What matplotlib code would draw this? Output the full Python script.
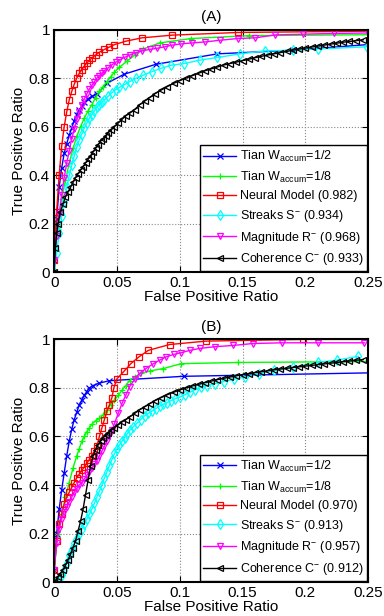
import numpy as np
import matplotlib
matplotlib.use("Agg")
import matplotlib.pyplot as plt

plt.rcParams['font.family'] = ['Liberation Sans', 'DejaVu Sans']
plt.rcParams['mathtext.fontset'] = 'custom'
plt.rcParams['mathtext.rm'] = 'Liberation Sans'
plt.rcParams['mathtext.it'] = 'Liberation Sans:italic'

# ---------------- panel (A) ----------------
blueA_x = [0, 0.002, 0.004, 0.006, 0.008, 0.010, 0.012, 0.014, 0.016, 0.018, 0.020, 0.022,
           0.024, 0.027, 0.030, 0.0345, 0.0417, 0.0557, 0.081, 0.13, 0.19, 0.28]
blueA_y = [0.05, 0.22, 0.35, 0.43, 0.49, 0.53, 0.565, 0.595, 0.625, 0.65, 0.67, 0.685,
           0.70, 0.715, 0.725, 0.735, 0.778, 0.816, 0.857, 0.90, 0.915, 0.95]

greenA_x = [0, 0.003, 0.006, 0.009, 0.012, 0.015, 0.018, 0.021, 0.024, 0.027, 0.030, 0.033,
            0.036, 0.039, 0.042, 0.045, 0.048, 0.052, 0.058, 0.064, 0.071, 0.084, 0.109, 0.155, 0.28]
greenA_y = [0.05, 0.18, 0.30, 0.38, 0.45, 0.51, 0.56, 0.60, 0.635, 0.665, 0.69, 0.72,
            0.745, 0.765, 0.785, 0.805, 0.825, 0.845, 0.87, 0.895, 0.92, 0.945, 0.963, 0.975, 0.98]

redA_x = [0, 0.002, 0.004, 0.006, 0.008, 0.010, 0.012, 0.014, 0.016, 0.018, 0.020, 0.022,
          0.024, 0.026, 0.028, 0.030, 0.033, 0.036, 0.040, 0.044, 0.048, 0.057, 0.070, 0.094,
          0.146, 0.28]
redA_y = [0.05, 0.25, 0.40, 0.52, 0.60, 0.66, 0.71, 0.745, 0.775, 0.80, 0.82, 0.835,
          0.85, 0.862, 0.873, 0.883, 0.895, 0.907, 0.918, 0.928, 0.938, 0.952, 0.966, 0.977,
          0.988, 0.995]

cyanA_x = [0, 0.002, 0.004, 0.006, 0.008, 0.010, 0.012, 0.014, 0.016, 0.018, 0.020, 0.022,
           0.024, 0.026, 0.028, 0.030, 0.032, 0.034, 0.036, 0.038, 0.040, 0.043, 0.046, 0.049,
           0.052, 0.056, 0.060, 0.0655, 0.071, 0.0775, 0.085, 0.093, 0.1035, 0.116, 0.13,
           0.148, 0.168, 0.19, 0.21, 0.249]
cyanA_y = [0.0, 0.08, 0.16, 0.23, 0.29, 0.35, 0.40, 0.44, 0.48, 0.515, 0.545, 0.57,
           0.595, 0.615, 0.635, 0.65, 0.665, 0.68, 0.69, 0.70, 0.71, 0.725, 0.74, 0.752,
           0.762, 0.773, 0.785, 0.80, 0.812, 0.826, 0.84, 0.853, 0.86, 0.874, 0.885,
           0.90, 0.912, 0.915, 0.92, 0.929]

magA_x = [0, 0.002, 0.004, 0.006, 0.008, 0.010, 0.012, 0.014, 0.016, 0.018, 0.020, 0.022,
          0.024, 0.026, 0.028, 0.030, 0.032, 0.034, 0.036, 0.038, 0.040, 0.043, 0.046, 0.049,
          0.052, 0.056, 0.060, 0.065, 0.070, 0.076, 0.082, 0.088, 0.094, 0.101, 0.110, 0.120,
          0.132, 0.146, 0.160, 0.176, 0.198, 0.223, 0.25]
magA_y = [0.05, 0.15, 0.24, 0.32, 0.39, 0.45, 0.50, 0.55, 0.59, 0.63, 0.66, 0.69,
          0.715, 0.735, 0.755, 0.77, 0.785, 0.80, 0.81, 0.82, 0.83, 0.842, 0.855, 0.865,
          0.875, 0.885, 0.895, 0.905, 0.912, 0.918, 0.923, 0.929, 0.936, 0.941, 0.945, 0.949,
          0.956, 0.963, 0.966, 0.978, 0.981, 0.984, 0.986]

blackA_x = [0, 0.001, 0.002, 0.003, 0.005, 0.007, 0.009, 0.011, 0.013, 0.015, 0.017, 0.019,
            0.021, 0.023, 0.025, 0.027, 0.029, 0.031, 0.033, 0.035, 0.037, 0.039, 0.041, 0.043,
            0.045, 0.048, 0.051, 0.054, 0.057, 0.060, 0.064, 0.068, 0.072, 0.076, 0.080, 0.085,
            0.090, 0.095, 0.100, 0.105, 0.110, 0.115, 0.120, 0.125, 0.130, 0.135, 0.140, 0.145,
            0.150, 0.155, 0.160, 0.165, 0.170, 0.175, 0.180, 0.185, 0.190, 0.195, 0.200, 0.205,
            0.210, 0.215, 0.220, 0.225, 0.230, 0.235, 0.240, 0.246]
blackA_y = [0.0, 0.10, 0.16, 0.20, 0.25, 0.28, 0.31, 0.33, 0.35, 0.37, 0.39, 0.405,
            0.42, 0.435, 0.45, 0.465, 0.48, 0.495, 0.51, 0.525, 0.54, 0.55, 0.56, 0.575,
            0.585, 0.60, 0.615, 0.63, 0.645, 0.655, 0.67, 0.69, 0.705, 0.72, 0.735, 0.75,
            0.765, 0.778, 0.79, 0.80, 0.81, 0.82, 0.83, 0.838, 0.846, 0.854, 0.86, 0.866,
            0.872, 0.878, 0.884, 0.89, 0.895, 0.90, 0.905, 0.91, 0.915, 0.92, 0.924, 0.928,
            0.932, 0.936, 0.94, 0.944, 0.948, 0.951, 0.954, 0.958]

# ---------------- panel (B) ----------------
blueB_x = [0, 0.002, 0.004, 0.006, 0.008, 0.010, 0.012, 0.014, 0.016, 0.018, 0.020, 0.022,
           0.024, 0.026, 0.028, 0.031, 0.036, 0.044, 0.103, 0.28]
blueB_y = [0.05, 0.20, 0.30, 0.38, 0.45, 0.52, 0.58, 0.63, 0.67, 0.70, 0.73, 0.75,
           0.77, 0.785, 0.80, 0.81, 0.82, 0.83, 0.848, 0.865]

greenB_x = [0, 0.003, 0.006, 0.009, 0.012, 0.015, 0.018, 0.020, 0.022, 0.024, 0.026, 0.028,
            0.030, 0.033, 0.036, 0.039, 0.042, 0.045, 0.048, 0.051, 0.054, 0.057, 0.060, 0.064,
            0.069, 0.076, 0.087, 0.101, 0.1465, 0.28]
greenB_y = [0.05, 0.20, 0.28, 0.35, 0.41, 0.47, 0.52, 0.55, 0.58, 0.60, 0.62, 0.635,
            0.65, 0.665, 0.675, 0.69, 0.71, 0.73, 0.75, 0.77, 0.79, 0.81, 0.83, 0.845,
            0.86, 0.87, 0.88, 0.90, 0.905, 0.91]

redB_x = [0, 0.002, 0.004, 0.006, 0.008, 0.010, 0.012, 0.014, 0.016, 0.018, 0.020, 0.022,
          0.024, 0.026, 0.028, 0.030, 0.032, 0.034, 0.036, 0.038, 0.040, 0.042, 0.044, 0.046,
          0.0475, 0.050, 0.0555, 0.061, 0.0675, 0.075, 0.092, 0.121, 0.198, 0.28]
redB_y = [0.05, 0.17, 0.24, 0.28, 0.32, 0.35, 0.37, 0.39, 0.41, 0.43, 0.445, 0.46,
          0.475, 0.49, 0.505, 0.52, 0.54, 0.56, 0.60, 0.635, 0.67, 0.705, 0.73, 0.76,
          0.80, 0.838, 0.868, 0.90, 0.928, 0.955, 0.979, 0.993, 1.0, 1.0]

cyanB_x = [0, 0.004, 0.006, 0.008, 0.010, 0.012, 0.014, 0.016, 0.018, 0.020, 0.022, 0.024,
           0.026, 0.028, 0.030, 0.032, 0.034, 0.036, 0.038, 0.040, 0.042, 0.044, 0.046, 0.048,
           0.050, 0.052, 0.054, 0.056, 0.058, 0.060, 0.063, 0.066, 0.069, 0.072, 0.075, 0.078,
           0.081, 0.084, 0.087, 0.090, 0.093, 0.096, 0.100, 0.104, 0.108, 0.112, 0.117, 0.122,
           0.128, 0.135, 0.143, 0.152, 0.163, 0.175, 0.19, 0.21, 0.225, 0.242]
cyanB_y = [0, 0.01, 0.03, 0.05, 0.08, 0.11, 0.135, 0.16, 0.18, 0.20, 0.22, 0.24,
           0.26, 0.28, 0.30, 0.325, 0.35, 0.375, 0.40, 0.43, 0.455, 0.48, 0.505, 0.53,
           0.55, 0.565, 0.58, 0.595, 0.61, 0.625, 0.64, 0.655, 0.67, 0.685, 0.695, 0.705,
           0.715, 0.725, 0.733, 0.74, 0.748, 0.755, 0.762, 0.772, 0.782, 0.792, 0.802, 0.81,
           0.818, 0.826, 0.836, 0.846, 0.858, 0.872, 0.885, 0.905, 0.915, 0.93]

magB_x = [0, 0.002, 0.004, 0.006, 0.008, 0.010, 0.012, 0.014, 0.016, 0.018, 0.020, 0.022,
          0.024, 0.026, 0.028, 0.030, 0.032, 0.034, 0.036, 0.038, 0.040, 0.042, 0.044, 0.046,
          0.048, 0.051, 0.054, 0.057, 0.060, 0.064, 0.068, 0.073, 0.079, 0.084, 0.089, 0.095,
          0.101, 0.108, 0.116, 0.128, 0.142, 0.158, 0.181, 0.21, 0.247]
magB_y = [0.05, 0.16, 0.22, 0.26, 0.29, 0.31, 0.33, 0.35, 0.37, 0.385, 0.40, 0.41,
          0.425, 0.44, 0.455, 0.47, 0.485, 0.50, 0.52, 0.54, 0.56, 0.58, 0.60, 0.625,
          0.653, 0.695, 0.736, 0.77, 0.805, 0.835, 0.86, 0.88, 0.90, 0.915, 0.928, 0.938,
          0.945, 0.955, 0.963, 0.97, 0.975, 0.983, 0.986, 0.986, 0.986]

blackB_x = [0, 0.003, 0.005, 0.007, 0.009, 0.011, 0.013, 0.015, 0.017, 0.019, 0.021, 0.023,
            0.025, 0.027, 0.029, 0.031, 0.033, 0.035, 0.037, 0.039, 0.041, 0.043, 0.045, 0.048,
            0.051, 0.054, 0.057, 0.060, 0.064, 0.068, 0.072, 0.076, 0.080, 0.085, 0.090, 0.095,
            0.100, 0.105, 0.110, 0.115, 0.120, 0.125, 0.130, 0.135, 0.140, 0.145, 0.150, 0.155,
            0.160, 0.165, 0.170, 0.175, 0.180, 0.185, 0.190, 0.195, 0.200, 0.205, 0.210, 0.215,
            0.220, 0.225, 0.230, 0.235, 0.240, 0.246]
blackB_y = [0, 0.02, 0.035, 0.05, 0.07, 0.09, 0.115, 0.14, 0.17, 0.21, 0.25, 0.30,
            0.36, 0.42, 0.48, 0.52, 0.545, 0.565, 0.58, 0.595, 0.605, 0.615, 0.625, 0.637,
            0.648, 0.66, 0.67, 0.68, 0.695, 0.71, 0.722, 0.735, 0.747, 0.76, 0.772, 0.782,
            0.792, 0.80, 0.808, 0.815, 0.822, 0.828, 0.834, 0.84, 0.845, 0.85, 0.855, 0.859,
            0.863, 0.867, 0.871, 0.875, 0.878, 0.881, 0.884, 0.887, 0.89, 0.893, 0.896, 0.899,
            0.902, 0.905, 0.908, 0.911, 0.914, 0.917]

aucA = ['0.982', '0.934', '0.968', '0.933']
aucB = ['0.970', '0.913', '0.957', '0.912']

xticks = [0, 0.05, 0.1, 0.15, 0.2, 0.25]
xticklabels = ['0', '0.05', '0.1', '0.15', '0.2', '0.25']
yticks = [0, 0.2, 0.4, 0.6, 0.8, 1.0]
yticklabels = ['0', '0.2', '0.4', '0.6', '0.8', '1']


def makeLabels(auc):
    return ['Tian W$_{\\mathrm{accum}}$=1/2',
            'Tian W$_{\\mathrm{accum}}$=1/8',
            'Neural Model (' + auc[0] + ')',
            'Streaks S$^{-}$ (' + auc[1] + ')',
            'Magnitude R$^{-}$ (' + auc[2] + ')',
            'Coherence C$^{-}$ (' + auc[3] + ')']


def plotPanel(ax, curves, labels, title):
    # MATLAB-like pure colours
    styles = [('#0000ff', 'x'), ('#00ff00', '+'), ('#ff0000', 's'),
              ('#00ffff', 'd'), ('#ff00ff', 'v'), ('#000000', '<')]
    for (xs, ys), (col, mk), lab in zip(curves, styles, labels):
        ax.plot(xs, ys, color=col, marker=mk, markersize=4.6, markerfacecolor='none',
                markeredgecolor=col, markeredgewidth=0.9, linewidth=1.0, label=lab)

    ax.set_xlim(0, 0.25)
    ax.set_ylim(0, 1)
    ax.set_xticks(xticks)
    ax.set_xticklabels(xticklabels)
    ax.set_yticks(yticks)
    ax.set_yticklabels(yticklabels)
    ax.tick_params(direction='in', top=True, right=True, labelsize=11, length=4, pad=3)
    ax.grid(True, linestyle=':', color='#888888', linewidth=0.8)
    for sp in ax.spines.values():
        sp.set_linewidth(1.5)
    ax.set_xlabel('False Positive Ratio', fontsize=11, labelpad=0)
    ax.set_ylabel('True Positive Ratio', fontsize=11, labelpad=2)
    ax.set_title(title, fontsize=11, pad=6)
    leg = ax.legend(loc='lower right', fontsize=9, fancybox=False, framealpha=1,
                    edgecolor='k', borderaxespad=0.1, handlelength=2.6,
                    labelspacing=0.45, borderpad=0.3, handletextpad=0.3)
    leg.get_frame().set_linewidth(1.0)


fig = plt.figure(figsize=(3.84, 6.16), dpi=100)
axA = fig.add_axes([0.141, 0.558, 0.818, 0.394])
axB = fig.add_axes([0.141, 0.055, 0.818, 0.394])

curvesA = [(blueA_x, blueA_y), (greenA_x, greenA_y), (redA_x, redA_y),
           (cyanA_x, cyanA_y), (magA_x, magA_y), (blackA_x, blackA_y)]
curvesB = [(blueB_x, blueB_y), (greenB_x, greenB_y), (redB_x, redB_y),
           (cyanB_x, cyanB_y), (magB_x, magB_y), (blackB_x, blackB_y)]

plotPanel(axA, curvesA, makeLabels(aucA), '(A)')
plotPanel(axB, curvesB, makeLabels(aucB), '(B)')

fig.savefig('out.png', dpi=100)
